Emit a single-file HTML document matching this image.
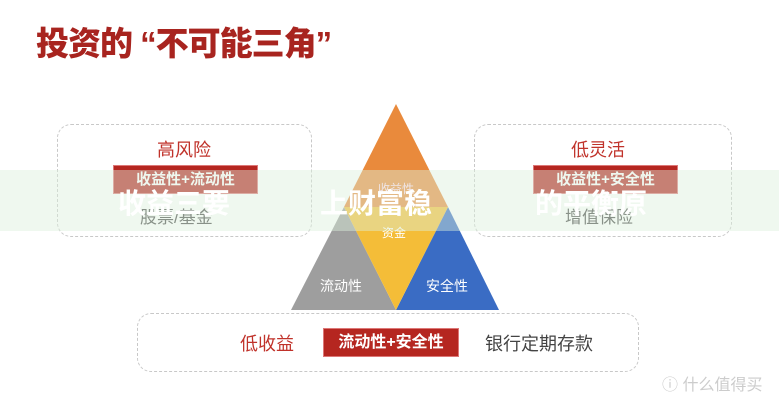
<!DOCTYPE html>
<html><head><meta charset="utf-8"><style>
body{margin:0;width:779px;height:400px;background:#fff;position:relative;overflow:hidden;font-family:"Liberation Sans","Noto Sans CJK SC",sans-serif}
.a{position:absolute;white-space:nowrap}
.box{position:absolute;border:1.5px dashed #c8c8c8;border-radius:14px}
.red{color:#c0322a}
.tag{position:absolute;background:#b52620;color:#fff;font-weight:bold;text-align:center;border:1px solid #d77}
</style></head><body>
<div class="a" style="left:36px;top:17px;font-size:33px;font-weight:900;color:#a8241f;letter-spacing:-1px">投资的 “不可能三角”</div>
<div class="box" style="left:57px;top:124px;width:253px;height:111px"></div>
<div class="box" style="left:474px;top:124px;width:256px;height:111px"></div>
<div class="box" style="left:137px;top:313px;width:500px;height:57px"></div>
<svg class="a" style="left:0;top:0" width="779" height="400">
<polygon points="396,104 344,207 448,207" fill="#e98a3c"/>
<polygon points="291,310 344,207 396,310" fill="#9e9e9e"/>
<polygon points="396,310 448,207 499,310" fill="#3a6cc4"/>
<polygon points="344,207 448,207 396,310" fill="#f4bd38"/>
</svg>
<div class="a" style="left:378px;top:180px;font-size:12px;color:#fde">收益性</div>
<div class="a" style="left:382px;top:224px;font-size:12px;color:#fff">资金</div>
<div class="a" style="left:320px;top:276px;font-size:14px;color:#fff">流动性</div>
<div class="a" style="left:426px;top:276px;font-size:14px;color:#fff">安全性</div>
<div class="a red" style="left:157px;top:136px;font-size:18px">高风险</div>
<div class="a red" style="left:571px;top:136px;font-size:18px">低灵活</div>
<div class="tag" style="left:113px;top:165px;width:143px;height:27px;line-height:27px;font-size:15px">收益性+流动性</div>
<div class="tag" style="left:533px;top:165px;width:143px;height:27px;line-height:27px;font-size:15px">收益性+安全性</div>
<div class="a" style="left:140px;top:203px;font-size:17px;color:#444">股票/基金</div>
<div class="a" style="left:565px;top:203px;font-size:17px;color:#444">增值保险</div>
<div class="a" style="left:0;top:170px;width:779px;height:61px;background:rgba(220,240,220,0.45)"></div>
<div class="a" style="left:118px;top:182px;font-size:28px;font-weight:bold;color:#fff">收益三要</div>
<div class="a" style="left:320px;top:182px;font-size:28px;font-weight:bold;color:#fff">上财富稳</div>
<div class="a" style="left:535px;top:182px;font-size:28px;font-weight:bold;color:#fff">的平衡原</div>
<div class="a red" style="left:240px;top:330px;font-size:18px">低收益</div>
<div class="tag" style="left:323px;top:328px;width:134px;height:27px;line-height:27px;font-size:16px">流动性+安全性</div>
<div class="a" style="left:485px;top:330px;font-size:18px;color:#444">银行定期存款</div>
<div class="a" style="left:662px;top:371px;font-size:16px;color:#ccc">ⓘ 什么值得买</div>
</body></html>
